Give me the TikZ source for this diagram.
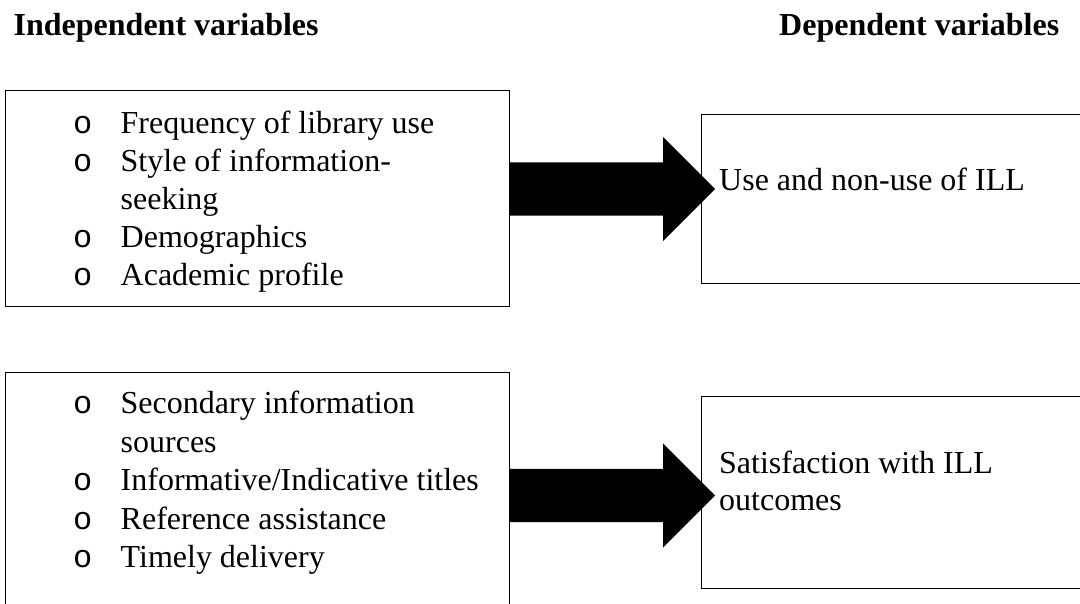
\documentclass[tikz,border=0pt]{standalone}
\usepackage{fontspec}
\setmainfont{Liberation Serif}
\newfontfamily\bulletfont{Liberation Mono}
\usetikzlibrary{shapes.arrows}
\begin{document}
\begin{tikzpicture}[x=1pt,y=-1pt,
  box/.style={draw,line width=1.3pt,inner sep=0pt,anchor=north west},
  txt/.style={inner sep=0pt,anchor=base west,font=\fontsize{32}{38}\selectfont},
  ttl/.style={inner sep=0pt,anchor=base west,font=\fontsize{32}{38}\selectfont\bfseries},
  bul/.style={inner sep=0pt,anchor=base west,font=\fontsize{32}{38}\selectfont\bulletfont},
  blockarrow/.style={single arrow,fill=black,draw=none,inner xsep=0pt,inner ysep=26.5pt,
    single arrow head extend=25.5pt,single arrow head indent=0pt,minimum height=206pt,anchor=tail}]
\useasboundingbox (0,0) rectangle (1080,604);
\clip (0,0) rectangle (1080,604);
\fill[white] (0,0) rectangle (1080,604);

% titles
\node[ttl] (ti) at (13.5,36) {Independent variables};
\node[ttl] (td) at (779,36) {Dependent variables};

% boxes
\node[box,minimum width=504pt,minimum height=216pt] (L1) at (5,90) {};
\node[box,minimum width=390pt,minimum height=169pt] (R1) at (701,114) {};
\node[box,minimum width=504pt,minimum height=250pt] (L2) at (5,372) {};
\node[box,minimum width=390pt,minimum height=192pt] (R2) at (701,396) {};

% arrows
\coordinate (a1) at (509,189);
\coordinate (a2) at (509,495.5);
\node[blockarrow] (A1) at (a1) {};
\node[blockarrow] (A2) at (a2) {};

% top-left list
\node[bul] (b11) at (73,134) {o};
\node[txt] (t11) at (120.5,134) {Frequency of library use};
\node[bul] (b12) at (73,172) {o};
\node[txt] (t12) at (120.5,172) {Style of information-};
\node[txt] (t12b) at (120.5,210) {seeking};
\node[bul] (b13) at (73,248) {o};
\node[txt] (t13) at (120.5,248) {Demographics};
\node[bul] (b14) at (73,286) {o};
\node[txt] (t14) at (120.5,286) {Academic profile};

% bottom-left list
\node[bul] (b21) at (73,413.5) {o};
\node[txt] (t21) at (120.5,413.5) {Secondary information};
\node[txt] (t21b) at (120.5,452) {sources};
\node[bul] (b22) at (73,490.5) {o};
\node[txt] (t22) at (120.5,490.5) {Informative/Indicative titles};
\node[bul] (b23) at (73,529) {o};
\node[txt] (t23) at (120.5,529) {Reference assistance};
\node[bul] (b24) at (73,567) {o};
\node[txt] (t24) at (120.5,567) {Timely delivery};

% right texts
\node[txt] (u1) at (719,191) {Use and non-use of ILL};
\node[txt] (s1) at (719,473) {Satisfaction with ILL};
\node[txt] (s2) at (719,510.5) {outcomes};
\end{tikzpicture}
\end{document}
